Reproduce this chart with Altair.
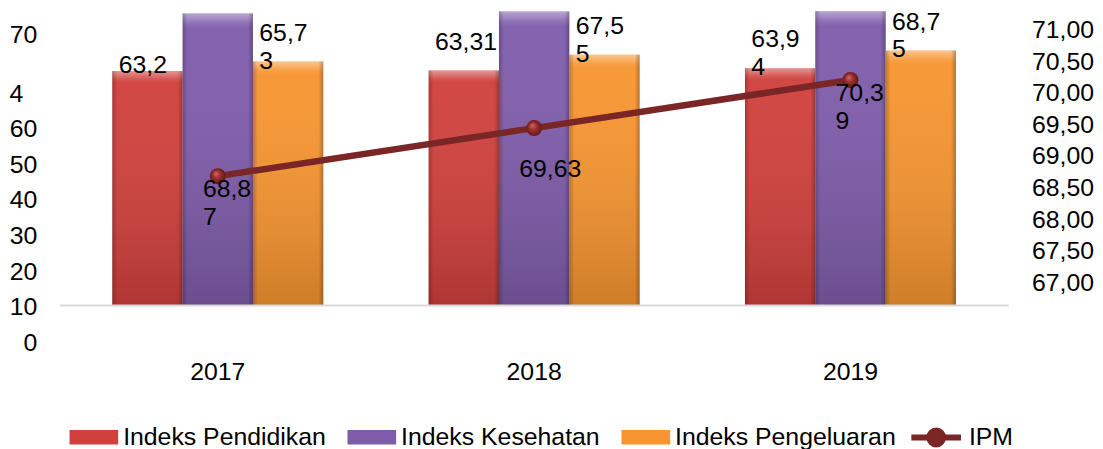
import json
import altair as alt
import pandas as pd

FONT = "Liberation Sans"

YEARS = ["2017", "2018", "2019"]
SERIES = ["Indeks Pendidikan", "Indeks Kesehatan", "Indeks Pengeluaran"]
PENDIDIKAN = [63.2, 63.31, 63.94]
KESEHATAN = [78.7, 79.2, 79.3]
PENGELUARAN = [65.73, 67.55, 68.75]
IPM = [68.87, 69.63, 70.39]

LABELS_PENDIDIKAN = ["63,2", "63,31\n", "63,9\n4"]
LABELS_PENGELUARAN = ["65,7\n3", "67,5\n5", "68,7\n5"]
LABELS_IPM = ["68,8\n7", "\n69,63", "70,3\n9"]

LEFT_TICK_VALUES = [0, 10, 20, 30, 40, 50, 60, 70, 86.6]
LEFT_TICK_LABELS = ["0", "10", "20", "30", "40", "50", "60", "4", "70"]
RIGHT_TICK_VALUES = [67.0, 67.5, 68.0, 68.5, 69.0, 69.5, 70.0, 70.5, 71.0]

COLORS = ["#D0403C", "#7F5CAB", "#F79530"]
IPM_COLOR = "#7A2626"

# ---- tables built from the arrays ----
bars_df = pd.DataFrame(
    [{"year": y, "series": s, "value": v}
     for s, vals in zip(SERIES, [PENDIDIKAN, KESEHATAN, PENGELUARAN])
     for y, v in zip(YEARS, vals)]
)
labels_df = pd.DataFrame(
    [{"year": y, "series": SERIES[0], "value": v, "label": l}
     for y, v, l in zip(YEARS, PENDIDIKAN, LABELS_PENDIDIKAN)]
    + [{"year": y, "series": SERIES[2], "value": v, "label": l}
       for y, v, l in zip(YEARS, PENGELUARAN, LABELS_PENGELUARAN)]
)
ipm_df = pd.DataFrame({"year": YEARS, "ipm": IPM, "name": ["IPM"] * 3, "label": LABELS_IPM})
left_df = pd.DataFrame({"v": LEFT_TICK_VALUES})
base_df = pd.DataFrame({"b": [0]})

X = alt.X(
    "year:N",
    scale=alt.Scale(domain=YEARS, paddingInner=0.333, paddingOuter=0.1665),
    axis=alt.Axis(title=None, labelAngle=0, ticks=False, domain=False, grid=False,
                  labelPadding=11, labelFontSize=25, labelFont=FONT, labelColor="#000"),
)
XO = alt.XOffset("series:N", scale=alt.Scale(domain=SERIES, paddingInner=0, paddingOuter=0))
BAR_SCALE = alt.Scale(domain=[-11.774, 79.74], nice=False, zero=False)
YB = alt.Y("value:Q", scale=BAR_SCALE, axis=None)

legend_common = dict(
    orient="none", direction="horizontal", title=None, labelFont=FONT, labelFontSize=25,
    labelColor="#000", labelLimit=600, labelOffset=5,
)

bars = alt.Chart(bars_df).mark_bar().encode(
    x=X, xOffset=XO, y=YB, y2=alt.datum(0),
    color=alt.Color(
        "series:N",
        scale=alt.Scale(domain=SERIES, range=COLORS),
        legend=alt.Legend(symbolType="M-1,-0.3H1V0.3H-1Z", symbolSize=2401,
                          symbolStrokeWidth=0, columnPadding=21, legendX=10, legendY=406,
                          **legend_common),
    ),
)

shade_v = alt.Chart(bars_df).mark_bar(
    fill={"gradient": "linear", "x1": 0, "y1": 0, "x2": 0, "y2": 1,
          "stops": [{"offset": 0, "color": "rgba(255,255,255,0.45)"},
                    {"offset": 0.035, "color": "rgba(255,255,255,0.12)"},
                    {"offset": 0.05, "color": "rgba(255,255,255,0.04)"},
                    {"offset": 1, "color": "rgba(0,0,0,0.16)"}]},
).encode(x=X, xOffset=XO, y=YB, y2=alt.datum(0))

shade_h = alt.Chart(bars_df).mark_bar(
    fill={"gradient": "linear", "x1": 0, "y1": 0, "x2": 1, "y2": 0,
          "stops": [{"offset": 0, "color": "rgba(0,0,0,0.22)"},
                    {"offset": 0.07, "color": "rgba(0,0,0,0)"},
                    {"offset": 0.93, "color": "rgba(0,0,0,0)"},
                    {"offset": 1, "color": "rgba(0,0,0,0.25)"}]},
).encode(x=X, xOffset=XO, y=YB, y2=alt.datum(0))

baseline = alt.Chart(base_df).mark_rule(color="#D9D9D9", strokeWidth=2).encode(
    y=alt.Y("b:Q", scale=BAR_SCALE, axis=None)
)

# multi-line labels grow upward from the bar top (Excel style)
bar_labels = alt.Chart(labels_df).mark_text(
    align="left", baseline="bottom", dx=-29,
    dy={"expr": "7 - 23 * (length(split(datum.label, '\\n')) - 1)"},
    lineBreak="\n", lineHeight=28,
    font=FONT, fontSize=25, color="#000",
).encode(x=X, xOffset=XO, y=YB, text="label:N")

bar_group = alt.layer(bars, shade_v, shade_h, baseline, bar_labels)

left_expr = f"{json.dumps(LEFT_TICK_LABELS)}[indexof({json.dumps(LEFT_TICK_VALUES)}, datum.value)]"
left_layer = alt.Chart(left_df).mark_point(opacity=0).encode(
    y=alt.Y(
        "v:Q",
        scale=alt.Scale(domain=[-1.955, 93.575], nice=False, zero=False),
        axis=alt.Axis(orient="left", values=LEFT_TICK_VALUES, labelExpr=left_expr,
                      ticks=False, domain=False, grid=False, title=None,
                      labelPadding={"condition": {"test": "datum.value == 70", "value": 37}, "value": 23},
                      labelFontSize=25, labelFont=FONT, labelColor="#000"),
    )
)

YI = alt.Y(
    "ipm:Q",
    scale=alt.Scale(domain=[66.137, 71.502], nice=False, zero=False),
    axis=alt.Axis(orient="right", values=RIGHT_TICK_VALUES,
                  labelExpr="replace(format(datum.value, '.2f'), '.', ',')",
                  ticks=False, domain=False, grid=False, title=None, labelPadding=23,
                  labelOffset=-12, labelAlign="left", labelFontSize=25, labelFont=FONT,
                  labelColor="#000"),
)

line = alt.Chart(ipm_df).mark_line(strokeWidth=6.5).encode(
    x=X, y=YI,
    stroke=alt.Stroke(
        "name:N", scale=alt.Scale(domain=["IPM"], range=[IPM_COLOR]),
        legend=alt.Legend(symbolType="M-1,0H1M0.28,0A0.28,0.28,0,1,1,-0.28,0A0.28,0.28,0,1,1,0.28,0Z",
                          symbolSize=2500, symbolStrokeWidth=6, symbolFillColor="#8E2B2B",
                          legendX=855, legendY=403, **legend_common),
    ),
)

points = alt.Chart(ipm_df).mark_circle(
    size=260, opacity=1,
    fill={"gradient": "radial", "x1": 0.38, "y1": 0.32, "r1": 0, "x2": 0.5, "y2": 0.5, "r2": 0.55,
          "stops": [{"offset": 0, "color": "#D06A6A"},
                    {"offset": 0.45, "color": "#9A2E2E"},
                    {"offset": 1, "color": "#5A1414"}]},
).encode(x=X, y=YI)

ipm_labels = alt.Chart(ipm_df).mark_text(
    align="left", baseline="top", dx=-15, dy=1, lineBreak="\n", lineHeight=28,
    font=FONT, fontSize=25, color="#000",
).encode(x=X, y=YI, text="label:N")

ipm_group = alt.layer(line, points, ipm_labels)

chart = alt.layer(bar_group, left_layer, ipm_group).resolve_scale(
    y="independent"
).properties(
    width=956, height=342,
    padding={"left": 52, "top": 0, "right": 87, "bottom": 99},
    autosize=alt.AutoSizeParams(type="none"),
).configure_view(stroke=None)

chart.save("out.html", embed_options={"renderer": "svg", "actions": False})
